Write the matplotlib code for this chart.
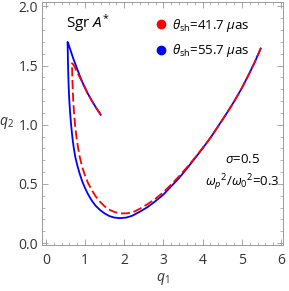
import matplotlib
matplotlib.use("Agg")
import matplotlib.pyplot as plt
from matplotlib.lines import Line2D
from matplotlib.ticker import MultipleLocator

plt.rcParams['font.family'] = ['Open Sans', 'DejaVu Sans']
plt.rcParams['mathtext.fontset'] = 'custom'
plt.rcParams['mathtext.rm'] = 'Open Sans'
plt.rcParams['mathtext.it'] = 'Open Sans:italic'

# shadow curve, theta_sh = 55.7 uas (blue, solid)
blue_q1 = [1.40, 1.28, 1.16, 1.06, 0.97, 0.87, 0.78, 0.70, 0.64, 0.59, 0.555,
           0.56, 0.565, 0.575, 0.585, 0.60, 0.62, 0.645, 0.675, 0.71, 0.75,
           0.80, 0.86, 0.93, 1.00, 1.08, 1.17, 1.27, 1.38, 1.50, 1.62, 1.75,
           1.89, 2.05, 2.20, 2.40, 2.60, 2.80, 3.00, 3.20, 3.40, 3.60, 3.80,
           4.00, 4.20, 4.40, 4.60, 4.80, 5.00, 5.20, 5.35, 5.48]
blue_q2 = [1.085, 1.145, 1.21, 1.27, 1.33, 1.41, 1.49, 1.56, 1.62, 1.67, 1.70,
           1.62, 1.52, 1.40, 1.30, 1.20, 1.10, 1.00, 0.90, 0.81, 0.73,
           0.66, 0.59, 0.52, 0.465, 0.41, 0.36, 0.315, 0.28, 0.25, 0.228, 0.215,
           0.21, 0.215, 0.23, 0.265, 0.305, 0.355, 0.41, 0.48, 0.55, 0.63, 0.715,
           0.80, 0.89, 0.99, 1.09, 1.195, 1.31, 1.44, 1.545, 1.645]

# shadow curve, theta_sh = 41.7 uas (red, dashed)
red_q1 = [1.40, 1.28, 1.16, 1.06, 0.98, 0.90, 0.82, 0.75, 0.70, 0.667,
          0.672, 0.68, 0.69, 0.70, 0.72, 0.745, 0.78, 0.82, 0.87, 0.93,
          1.00, 1.08, 1.17, 1.27, 1.38, 1.50, 1.63, 1.77, 1.94, 2.10, 2.25,
          2.40, 2.60, 2.80, 3.00, 3.20, 3.40, 3.60, 3.80, 4.00, 4.20, 4.40,
          4.60, 4.80, 5.00, 5.20, 5.35, 5.48]
red_q2 = [1.085, 1.145, 1.21, 1.27, 1.33, 1.38, 1.43, 1.48, 1.51, 1.52,
          1.45, 1.36, 1.27, 1.20, 1.10, 1.00, 0.90, 0.81, 0.72, 0.64,
          0.57, 0.505, 0.45, 0.395, 0.35, 0.31, 0.28, 0.26, 0.25, 0.252, 0.265,
          0.29, 0.33, 0.375, 0.43, 0.495, 0.565, 0.64, 0.72, 0.805, 0.89, 0.99,
          1.09, 1.195, 1.31, 1.44, 1.545, 1.645]

labels = [r'$\theta_{\rm sh}$=41.7 $\mu$as', r'$\theta_{\rm sh}$=55.7 $\mu$as']

fig = plt.figure(figsize=(2.89, 2.91), dpi=100)
ax = fig.add_axes([0.1443, 0.158, 0.835, 0.836])

ax.plot(blue_q1, blue_q2, color='blue', lw=1.3)
ax.plot(red_q1, red_q2, color='red', lw=1.3, dashes=(5, 2))

ax.set_xlim(-0.105, 6.05)
ax.set_ylim(-0.017, 2.04)
ax.xaxis.set_major_locator(MultipleLocator(1))
ax.xaxis.set_minor_locator(MultipleLocator(0.2))
ax.yaxis.set_major_locator(MultipleLocator(0.5))
ax.yaxis.set_minor_locator(MultipleLocator(0.1))
ax.yaxis.set_major_formatter(plt.FormatStrFormatter('%.1f'))
ax.tick_params(which='both', direction='in', top=True, right=True,
               color='#999999', labelsize=10, labelcolor='#333333')
ax.tick_params(which='major', length=4, width=0.6)
ax.tick_params(axis='x', which='major', pad=6)
ax.tick_params(axis='y', which='major', pad=2.5)
ax.tick_params(which='minor', length=2, width=0.5)
for sp in ax.spines.values():
    sp.set_color('#999999')
    sp.set_linewidth(0.7)

ax.set_xlabel(r'$q_1$', fontsize=10, color='#333333', va='center')
ax.xaxis.set_label_coords(0.5, -0.14)
ax.set_ylabel(r'$q_2$', fontsize=10, color='#333333', rotation=0,
              va='center')
ax.yaxis.set_label_coords(-0.145, 0.5)

ax.text(1.07, 1.86, r'Sgr $A^{*}$', fontsize=11, ha='center', va='center')
ax.text(5.03, 0.71, r'$\sigma$=0.5', fontsize=9.5, ha='center', va='center')
ax.text(5.0, 0.51, r'$\omega_p{}^2/\omega_0{}^2$=0.3', fontsize=9.5,
        ha='center', va='center')

handles = [Line2D([], [], ls='none', marker='o', ms=6, color='red'),
           Line2D([], [], ls='none', marker='o', ms=6, color='blue')]
ax.legend(handles, labels, loc='upper left', bbox_to_anchor=(0.44, 0.965),
          frameon=False, fontsize=9.5, handlelength=1.0, handletextpad=0.3,
          labelspacing=0.65, borderpad=0)

fig.savefig('out.png', dpi=100)
